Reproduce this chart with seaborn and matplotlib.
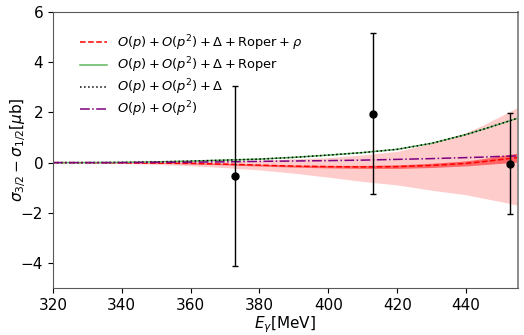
import numpy as np
import pandas as pd
import seaborn as sns
import matplotlib
matplotlib.use("Agg")
import matplotlib.pyplot as plt

# photon energy grid (MeV) for the theory curves
energy = [320, 330, 340, 350, 360, 370, 380, 390, 400, 410, 420, 430, 440, 445, 450, 455]

# O(p)+O(p^2)+Delta (+Roper) - both curves coincide
delta_curve = [0.0, 0.0, 0.01, 0.03, 0.06, 0.1, 0.14, 0.21, 0.3, 0.4, 0.53, 0.77, 1.12, 1.33, 1.55, 1.77]
roper_curve = [0.0, 0.0, 0.01, 0.03, 0.06, 0.1, 0.14, 0.21, 0.3, 0.4, 0.53, 0.77, 1.12, 1.33, 1.55, 1.77]
# O(p)+O(p^2)
op2_curve = [0.0, 0.0, 0.0, 0.01, 0.02, 0.03, 0.05, 0.065, 0.08, 0.1, 0.13, 0.16, 0.2, 0.22, 0.25, 0.27]
# O(p)+O(p^2)+Delta+Roper+rho
rho_curve = [0.0, 0.0, -0.01, -0.02, -0.03, -0.06, -0.1, -0.14, -0.16, -0.17, -0.16, -0.11, -0.03, 0.04, 0.12, 0.2]
rho_err = [0.0, 0.0, 0.005, 0.01, 0.02, 0.03, 0.035, 0.04, 0.05, 0.06, 0.07, 0.085, 0.1, 0.12, 0.15, 0.18]
band_upper = [0.0, 0.01, 0.02, 0.03, 0.05, 0.07, 0.1, 0.15, 0.2, 0.31, 0.45, 0.77, 1.2, 1.5, 1.85, 2.2]
band_lower = [0.0, -0.01, -0.03, -0.07, -0.12, -0.2, -0.29, -0.42, -0.58, -0.75, -0.89, -1.1, -1.28, -1.42, -1.55, -1.7]

# experimental points
exp_energy = [372.8, 413.0, 452.8]
exp_value = [-0.53, 1.94, -0.04]
exp_error = [3.58, 3.21, 2.0]

df = pd.DataFrame({"E": energy, "delta": delta_curve, "roper": roper_curve,
                   "op2": op2_curve, "rho": rho_curve})

plt.rcParams["font.size"] = 11
fig, ax = plt.subplots(figsize=(5.24, 3.35), dpi=100)
fig.subplots_adjust(left=0.101, right=0.988, bottom=0.14, top=0.964)

lo = np.array(band_lower)
hi = np.array(band_upper)
ax.fill_between(energy, lo, hi, color="red", alpha=0.2, linewidth=0)
r = np.array(rho_curve)
e = np.array(rho_err)
ax.fill_between(energy, r - e, r + e, color="red", alpha=0.5, linewidth=0)

sns.lineplot(data=df, x="E", y="rho", ax=ax, color="red", linestyle="--", linewidth=1.1,
             label=r"$O(p)+O(p^2)+\Delta+\mathrm{Roper}+\rho$")
sns.lineplot(data=df, x="E", y="roper", ax=ax, color="#5cb85c", linestyle="-", linewidth=1.1,
             label=r"$O(p)+O(p^2)+\Delta+\mathrm{Roper}$")
sns.lineplot(data=df, x="E", y="delta", ax=ax, color="black", linestyle=":", linewidth=1.1,
             label=r"$O(p)+O(p^2)+\Delta$")
sns.lineplot(data=df, x="E", y="op2", ax=ax, color="purple", linestyle="-.", linewidth=1.1,
             label=r"$O(p)+O(p^2)$")

ax.errorbar(exp_energy, exp_value, yerr=exp_error, fmt="o", color="black",
            ms=5, capsize=2, elinewidth=1)

ax.set_xlim(320, 455)
ax.set_ylim(-5, 6)
ax.set_xticks([320, 340, 360, 380, 400, 420, 440])
ax.set_yticks([-4, -2, 0, 2, 4, 6])
ax.tick_params(labelsize=11)
ax.set_xlabel(r"$E_\gamma[\mathrm{MeV}]$", labelpad=1)
ax.set_ylabel(r"$\sigma_{3/2}-\sigma_{1/2}[\mu\mathrm{b}]$")
ax.yaxis.set_label_coords(-0.054, 0.5)
for s in ax.spines.values():
    s.set_color("0.35")
ax.spines["right"].set_color("0.55")
ax.spines["right"].set_linewidth(1.4)
ax.legend(loc="upper left", frameon=False, fontsize=9.4, labelspacing=0.2,
          borderaxespad=0, bbox_to_anchor=(0.048, 0.943))

plt.savefig("out.png")
